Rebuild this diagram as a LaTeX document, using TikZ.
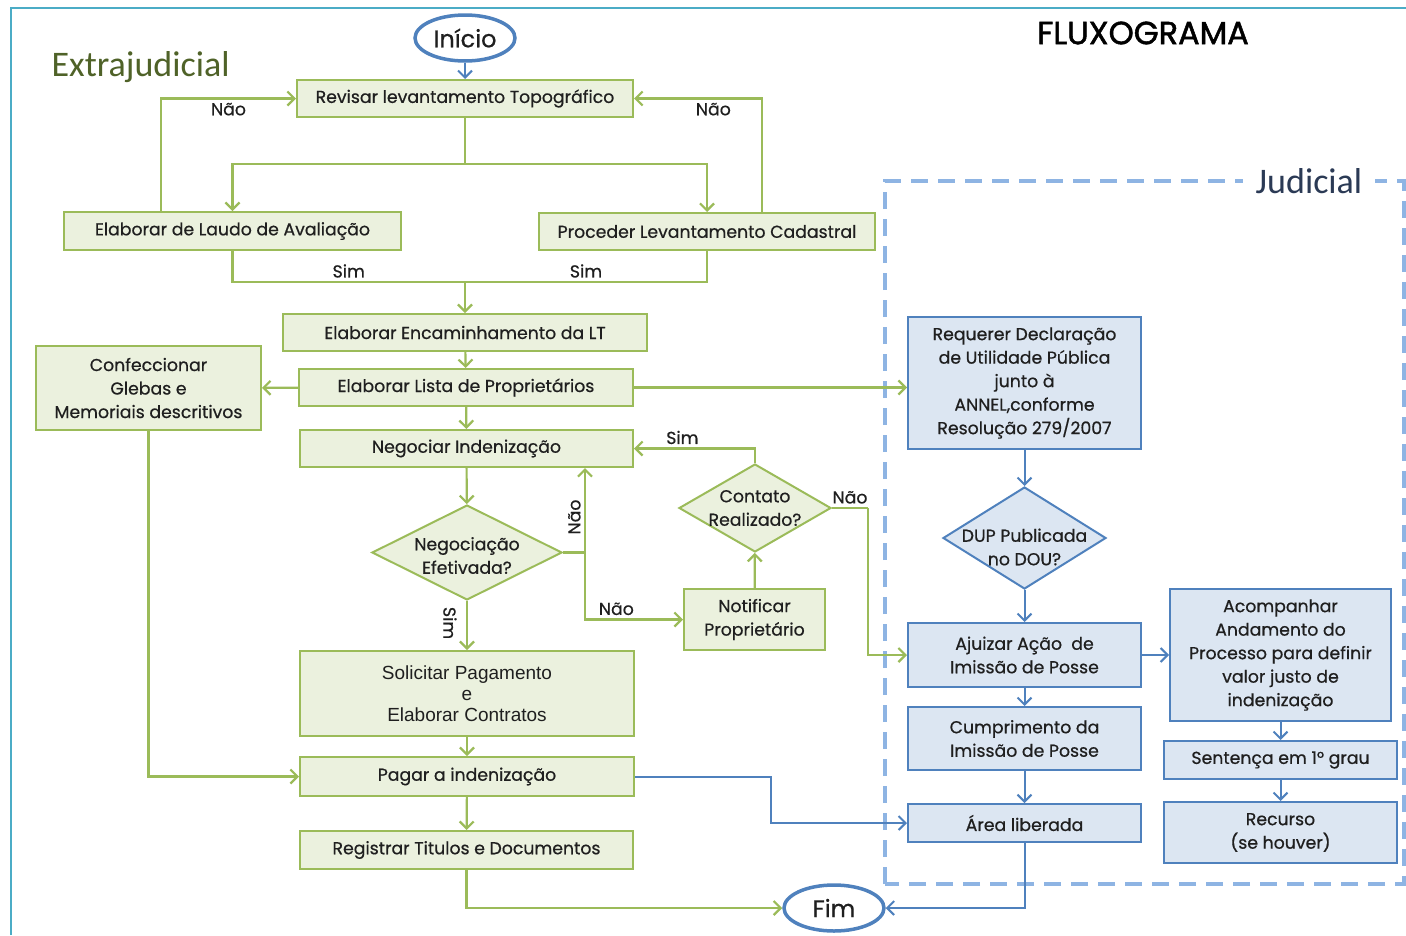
\documentclass[tikz,border=0pt]{standalone}
\usepackage{fontspec}
\setmainfont{Poppins}[FakeBold=0.6]
\newfontfamily\calibfont{Carlito}
\newfontfamily\arialfont{Liberation Sans}
\newfontfamily\titlefont{Poppins}[FakeBold=1.6]
\usepackage{tikz}
\usetikzlibrary{arrows, arrows.meta, positioning, shapes.geometric, calc}

\definecolor{grnline}{HTML}{9BBB59}
\definecolor{grnfill}{HTML}{EBF1DE}
\definecolor{bluline}{HTML}{4F81BD}
\definecolor{blufill}{HTML}{DCE6F2}
\definecolor{dashblue}{HTML}{8EB4E3}
\definecolor{framecol}{HTML}{4BACC6}
\definecolor{olive}{HTML}{4F6228}
\definecolor{judcol}{HTML}{2B3A55}
\definecolor{ink}{HTML}{1F1F1F}

\begin{document}
\begin{tikzpicture}[x=1pt, y=-1pt, >={Straight Barb[length=7pt, width=14pt]},
	every node/.style={text=ink, font=\fontsize{17.3}{23.5}\selectfont},
	every label/.style={align=center},
	gbox/.style={draw=grnline, fill=grnfill, line width=2pt, align=center, inner sep=0pt},
	bbox/.style={draw=bluline, fill=blufill, line width=2pt, align=center, inner sep=0pt},
	gdec/.style={diamond, draw=grnline, fill=grnfill, line width=2pt, inner sep=0pt},
	bdec/.style={diamond, draw=bluline, fill=blufill, line width=2pt, inner sep=0pt},
	term/.style={ellipse, draw=bluline, line width=3.5pt, fill=white, inner sep=0pt, font=\fontsize{24}{28}\selectfont},
	gline/.style={draw=grnline, line width=2.2pt},
	bline/.style={draw=bluline, line width=2pt}]

	\useasboundingbox (0,0) rectangle (1406,935);
	\draw[draw=framecol, line width=2.5pt] (11,935) -- (11,8) -- (1406,8);

	\node[anchor=west, font=\calibfont\fontsize{36}{40}\selectfont, text=olive] (extra) at (48,67) {Extrajudicial};
	\node[font=\titlefont\fontsize{32}{36}\selectfont, text=black] (titulo) at (1143,33) {FLUXOGRAMA};

	\draw[draw=dashblue, line width=3.5pt, dash pattern=on 17pt off 10pt] (885,884) -- (885,181) -- (1404,181) -- (1404,884) -- cycle;
	\node[fill=white, inner xsep=13pt, font=\calibfont\fontsize{36}{40}\selectfont, text=judcol] (jud) at (1309,181) {Judicial};

	\node[term, minimum width=100pt, minimum height=46pt] (ini) at (465,38) {Início};
	\node[gbox, minimum width=336pt, minimum height=37pt] (rev) at (465,98.5) {Revisar levantamento Topográfico};
	\node[gbox, minimum width=337pt, minimum height=38pt] (laudo) at (232.5,231) {Elaborar de Laudo de Avaliação};
	\node[gbox, minimum width=336pt, minimum height=37pt] (cad) at (707,231.5) {Proceder Levantamento Cadastral};
	\node[gbox, minimum width=364pt, minimum height=37pt] (enc) at (465,332.5) {Elaborar Encaminhamento da LT};
	\node[gbox, minimum width=334pt, minimum height=37pt] (lista) at (466,387.5) {Elaborar Lista de Proprietários};
	\node[gbox, minimum width=225pt, minimum height=84pt] (conf) at (148.5,388) {Confeccionar\\Glebas e\\Memoriais descritivos};
	\node[gbox, minimum width=333pt, minimum height=37pt] (neg) at (466.5,448.5) {Negociar Indenização};
	\node[gdec, minimum width=190pt, minimum height=95pt, label={[yshift=-3pt]center:{Negociação\\Efetivada?}}] (efet) at (467,552.5) {};
	\node[gdec, minimum width=152pt, minimum height=88pt, label={center:{Contato\\Realizado?}}] (cont) at (755,508) {};
	\node[gbox, minimum width=141pt, minimum height=61pt] (notif) at (754.5,619.5) {Notificar\\Proprietário};
	\node[gbox, minimum width=334pt, minimum height=85pt, font=\arialfont\fontsize{19}{21}\selectfont] (solic) at (467,693.5) {Solicitar Pagamento\\e\\Elaborar Contratos};
	\node[gbox, minimum width=334pt, minimum height=39pt] (pagar) at (467,776.5) {Pagar a indenização};
	\node[gbox, minimum width=333pt, minimum height=38pt] (regis) at (466.5,850) {Registrar Titulos e Documentos};
	\node[term, minimum width=100pt, minimum height=46pt] (fim) at (834,908) {Fim};

	\node[bbox, minimum width=233pt, minimum height=132pt] (req) at (1024.5,383) {Requerer Declaração\\de Utilidade Pública\\junto à\\ANNEL,conforme\\Resolução 279/2007};
	\node[bdec, minimum width=163pt, minimum height=102pt, label={[yshift=-9pt]center:{DUP Publicada\\no DOU?}}] (dup) at (1024.5,538) {};
	\node[bbox, minimum width=233pt, minimum height=64pt] (ajuiz) at (1024.5,655) {Ajuizar Ação\ \ de\\Imissão de Posse};
	\node[bbox, minimum width=233pt, minimum height=63pt] (cump) at (1024.5,738.5) {Cumprimento da\\Imissão de Posse};
	\node[bbox, minimum width=233pt, minimum height=38pt] (area) at (1024.5,823) {Área liberada};
	\node[bbox, minimum width=221pt, minimum height=132pt] (acomp) at (1280.5,655) {Acompanhar\\Andamento do\\Processo para definir\\valor justo de\\indenização};
	\node[bbox, minimum width=233pt, minimum height=38pt] (sent) at (1280.5,760) {Sentença em 1° grau};
	\node[bbox, minimum width=233pt, minimum height=61pt] (rec) at (1280.5,832.5) {Recurso\\(se houver)};

	\coordinate (fork) at (465,164);
	\coordinate (join) at (465,282);
	\coordinate (nb) at (585,552.5);
	\coordinate (cn) at (868,508);
	\coordinate (pb) at (771,776.5);

	\draw[bline, ->] (ini) -- (rev);
	\draw[gline] (rev) -- (fork);
	\draw[gline, ->] (fork) -| (laudo);
	\draw[gline, ->] (fork) -| (cad);
	\draw[gline, ->] ([xshift=-71.5pt]laudo.north) |- node[pos=0.75, below] {Não} (rev);
	\draw[gline, ->] ([xshift=55pt]cad.north) |- node[pos=0.69, below] {Não} (rev);
	\draw[gline] (laudo) |- node[pos=0.75, above] {Sim} (join);
	\draw[gline] (cad) |- node[pos=0.75, above] {Sim} (join);
	\draw[gline, ->] (join) -- (enc);
	\draw[gline, ->] (enc) -- (lista);
	\draw[gline, ->] (lista) -- (conf);
	\draw[gline, ->] (lista.east) -- (lista.east -| req.west);
	\draw[gline, ->] (lista) -- (neg);
	\draw[gline, ->] (conf) |- (pagar);
	\draw[gline, ->] (neg) -- (efet);
	\draw[gline] (efet) -- (nb);
	\draw[gline, ->] (nb) -- node[pos=0.42, above, sloped] {Não} (nb |- neg.south);
	\draw[gline, ->] (nb) |- node[pos=0.66, above] {Não} (notif);
	\draw[gline, ->] (efet) -- node[pos=0.45, below=6pt, sloped] {Sim} (solic);
	\draw[gline, ->] (notif) -- (cont);
	\draw[gline, ->] (cont) |- node[pos=0.8, above] {Sim} (neg);
	\draw[gline] (cont) -- node[midway, above] {Não} (cn);
	\draw[gline, ->] (cn) |- (ajuiz);
	\draw[gline, ->] (solic) -- (pagar);
	\draw[gline, ->] (pagar) -- (regis);
	\draw[gline, ->] (regis) |- (fim);

	\draw[bline, ->] (pagar) -- (pb) |- (area);
	\draw[bline, ->] (area) |- (fim);
	\draw[bline, ->] (req) -- (dup);
	\draw[bline, ->] (dup) -- (ajuiz);
	\draw[bline, ->] (ajuiz) -- (acomp);
	\draw[bline, ->] (ajuiz) -- (cump);
	\draw[bline, ->] (cump) -- (area);
	\draw[bline, ->] (acomp) -- (sent);
	\draw[bline, ->] (sent) -- (rec);

\end{tikzpicture}
\end{document}
